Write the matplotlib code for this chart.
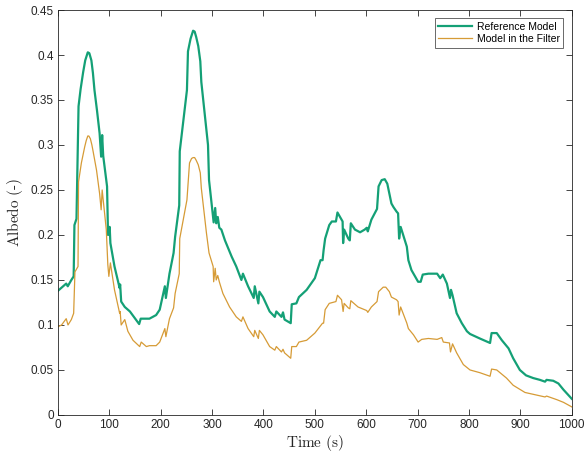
import numpy as np
import matplotlib
matplotlib.use("Agg")
import matplotlib.pyplot as plt
from matplotlib.ticker import FormatStrFormatter

# Reference model (green)
t_ref = [0, 16, 19, 26, 30.5, 32, 36, 40, 44, 49, 53, 58, 61, 65, 68, 71, 76, 81, 84, 86, 88, 95.5,
         97.4, 100.6, 102, 110, 120, 121, 123, 130, 140, 158, 161, 178, 191, 198, 208, 210, 217,
         225, 228, 236, 237, 251, 253, 258, 263, 266, 269, 273, 277, 279, 292, 294, 302, 303, 306,
         308, 311, 314, 318, 325, 338, 347, 357, 360, 370, 381, 383, 390, 392, 399, 412, 422, 425,
         435, 438, 441, 453, 455, 464, 469, 484, 500, 511, 515, 517, 520, 528, 533, 541, 544, 549,
         554, 555, 557, 565, 568, 570, 578, 588, 597, 601, 603, 610, 621, 624, 630, 636, 641, 649,
         653, 659, 662, 664, 667, 672, 679, 682, 688, 701, 706, 710, 721, 738, 744, 749, 757, 763,
         765, 768, 776, 786, 796, 802, 821, 841, 844, 854, 864, 877, 886, 899, 911, 925, 938, 948,
         951, 964, 974, 984, 1000]
y_ref = [0.138, 0.146, 0.143, 0.150, 0.154, 0.211, 0.218, 0.343, 0.362, 0.381, 0.394, 0.403, 0.402,
         0.394, 0.380, 0.361, 0.338, 0.313, 0.287, 0.311, 0.288, 0.254, 0.200, 0.209, 0.191, 0.165,
         0.141, 0.145, 0.126, 0.120, 0.115, 0.101, 0.107, 0.107, 0.111, 0.117, 0.143, 0.130, 0.157,
         0.180, 0.198, 0.233, 0.293, 0.361, 0.404, 0.418, 0.427, 0.426, 0.420, 0.410, 0.393, 0.370,
         0.300, 0.261, 0.220, 0.214, 0.230, 0.213, 0.220, 0.208, 0.206, 0.194, 0.176, 0.165, 0.150,
         0.157, 0.143, 0.130, 0.143, 0.124, 0.137, 0.131, 0.115, 0.109, 0.115, 0.109, 0.114, 0.106,
         0.102, 0.123, 0.124, 0.131, 0.139, 0.152, 0.172, 0.172, 0.183, 0.196, 0.211, 0.215, 0.215,
         0.225, 0.220, 0.215, 0.191, 0.206, 0.196, 0.194, 0.213, 0.206, 0.203, 0.206, 0.208, 0.204,
         0.217, 0.229, 0.254, 0.261, 0.262, 0.257, 0.235, 0.231, 0.226, 0.224, 0.196, 0.209, 0.200,
         0.187, 0.172, 0.161, 0.148, 0.148, 0.156, 0.157, 0.157, 0.152, 0.156, 0.146, 0.130, 0.139,
         0.133, 0.113, 0.102, 0.093, 0.090, 0.085, 0.080, 0.091, 0.091, 0.083, 0.074, 0.063, 0.050,
         0.044, 0.041, 0.039, 0.037, 0.039, 0.038, 0.035, 0.028, 0.018]

# Model in the filter (orange)
t_filt = [0, 7, 16, 19.5, 26, 30.5, 33, 39, 40, 45.5, 52, 55, 58, 60, 63, 66, 68, 75, 81, 84, 86,
          94, 97, 99, 102, 110, 120, 121, 123, 130, 136, 146, 159, 162, 172, 178, 191, 198, 208,
          210, 217, 225, 228, 236, 237, 251, 256, 260, 263, 266, 269, 273, 277, 279, 289, 294, 302,
          303, 306, 308, 311, 314, 321, 334, 347, 357, 360, 370, 381, 383, 390, 392, 399, 412, 422,
          425, 435, 438, 441, 453, 455, 464, 469, 484, 500, 515, 517, 520, 528, 541, 544, 552, 555,
          557, 565, 568, 570, 584, 601, 603, 610, 621, 624, 633, 638, 645, 649, 659, 662, 664, 667,
          679, 682, 692, 701, 708, 721, 738, 747, 750, 762, 764, 768, 776, 789, 802, 821, 841, 844,
          854, 873, 886, 909, 925, 948, 951, 971, 984, 1000]
y_filt = [0.098, 0.100, 0.107, 0.100, 0.106, 0.113, 0.159, 0.165, 0.259, 0.280, 0.298, 0.305,
          0.310, 0.310, 0.307, 0.300, 0.294, 0.272, 0.246, 0.228, 0.250, 0.206, 0.167, 0.154,
          0.169, 0.139, 0.113, 0.115, 0.100, 0.106, 0.093, 0.083, 0.076, 0.081, 0.076, 0.077,
          0.077, 0.081, 0.096, 0.087, 0.107, 0.119, 0.135, 0.157, 0.196, 0.239, 0.280, 0.285,
          0.286, 0.286, 0.283, 0.278, 0.269, 0.252, 0.202, 0.180, 0.165, 0.148, 0.163, 0.150,
          0.155, 0.148, 0.135, 0.120, 0.109, 0.104, 0.109, 0.096, 0.087, 0.094, 0.085, 0.094,
          0.089, 0.076, 0.072, 0.076, 0.070, 0.073, 0.069, 0.063, 0.076, 0.076, 0.081, 0.083,
          0.091, 0.102, 0.102, 0.117, 0.124, 0.126, 0.133, 0.128, 0.115, 0.124, 0.119, 0.118,
          0.127, 0.120, 0.116, 0.114, 0.120, 0.126, 0.137, 0.142, 0.142, 0.137, 0.131, 0.128,
          0.126, 0.111, 0.120, 0.102, 0.096, 0.089, 0.081, 0.084, 0.085, 0.084, 0.086, 0.081,
          0.080, 0.070, 0.079, 0.069, 0.056, 0.050, 0.047, 0.043, 0.051, 0.050, 0.041, 0.033,
          0.025, 0.023, 0.020, 0.021, 0.017, 0.014, 0.009]

plt.rcParams['font.family'] = ['Liberation Sans', 'DejaVu Sans']
plt.rcParams['mathtext.fontset'] = 'cm'

fig = plt.figure(figsize=(5.84, 4.55), dpi=100)
ax = fig.add_axes([0.0993, 0.088, 0.8797, 0.890])

ax.plot(t_ref, y_ref, color='#14a076', lw=1.6, label='Reference Model')
ax.plot(t_filt, y_filt, color='#d69b36', lw=0.9, label='Model in the Filter')

ax.set_xlim(0, 1000)
ax.set_ylim(0, 0.45)
ax.set_xticks(np.arange(0, 1001, 100))
ax.set_yticks(np.arange(0, 0.451, 0.05))
ax.yaxis.set_major_formatter(FormatStrFormatter('%g'))
ax.tick_params(direction='in', top=True, right=True, length=4, width=0.6,
               labelsize=8.5, colors='#262626', pad=3)
for s in ax.spines.values():
    s.set_linewidth(0.6)
    s.set_color('#262626')

ax.set_xlabel(r'$\mathrm{Time\ (s)}$', fontsize=11, color='#262626', labelpad=1)
ax.set_ylabel(r'$\mathrm{Albedo\ (\text{-})}$', fontsize=11, color='#262626', labelpad=4)

leg = ax.legend(loc='upper right', fontsize=7.5, frameon=True, fancybox=False,
                handlelength=3.2, borderaxespad=0.8, borderpad=0.35, labelspacing=0.2,
                handletextpad=0.5)
leg.get_frame().set_edgecolor('#262626')
leg.get_frame().set_linewidth(0.6)

fig.savefig('out.png', dpi=100)
